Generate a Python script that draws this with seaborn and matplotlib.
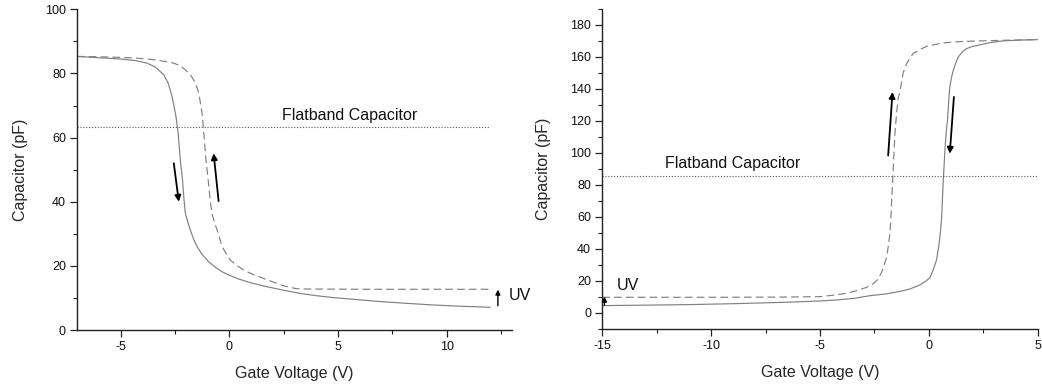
import matplotlib
matplotlib.use("Agg")
import matplotlib.pyplot as plt
from matplotlib.ticker import MultipleLocator
import seaborn as sns

# ---------------- data ----------------
# Left panel: solid sweep
left_solid_x = [-7.0, -6.0, -5.0, -4.3, -3.78, -3.4, -3.01, -2.8, -2.63, -2.45, -2.35, -2.25,
                -2.15, -2.08, -2.02, -1.9, -1.79, -1.65, -1.48, -1.25, -0.95, -0.65, -0.34,
                0.0, 0.43, 1.0, 1.73, 2.5, 3.26, 4.0, 4.79, 6.0, 7.08, 8.2, 9.37, 10.7, 12.0]
left_solid_y = [85.3, 84.9, 84.5, 84.0, 83.2, 82.0, 79.6, 76.8, 72.8, 66.6, 61.4, 53.0,
                46.8, 40.6, 36.4, 33.5, 31.2, 28.5, 26.0, 23.6, 21.3, 19.6, 18.2,
                17.1, 15.9, 14.7, 13.5, 12.4, 11.4, 10.7, 10.1, 9.4, 8.8, 8.3, 7.8, 7.4, 7.1]
# Left panel: dashed sweep
left_dash_x = [-7.0, -6.0, -5.0, -4.3, -3.62, -3.0, -2.55, -2.25, -2.02, -1.8, -1.64, -1.5,
               -1.4, -1.25, -1.17, -1.07, -0.97, -0.88, -0.8, -0.68, -0.56, -0.33, -0.1,
               0.05, 0.35, 0.66, 1.1, 1.57, 2.0, 2.49, 3.0, 3.26, 6.0, 9.0, 12.0]
left_dash_y = [85.3, 85.2, 85.0, 84.8, 84.4, 83.8, 83.2, 82.4, 81.1, 79.7, 78.0, 76.0,
               73.8, 67.6, 61.4, 53.0, 46.8, 40.6, 36.4, 33.5, 31.2, 26.0, 23.3,
               21.8, 20.1, 18.7, 17.3, 16.1, 15.0, 13.8, 13.0, 12.8, 12.7, 12.7, 12.7]
left_flatband = 63.2

# Right panel: solid sweep
right_solid_x = [-15.0, -13.0, -11.13, -9.0, -6.54, -5.0, -4.24, -3.4, -2.71, -1.9, -1.18,
                 -0.87, -0.41, -0.18, 0.05, 0.2, 0.35, 0.47, 0.54, 0.58, 0.62, 0.66, 0.7,
                 0.73, 0.79, 0.86, 0.91, 0.96, 1.04, 1.12, 1.23, 1.35, 1.53, 1.73, 2.0,
                 2.34, 2.8, 3.41, 4.2, 5.0]
right_solid_y = [4.6, 4.9, 5.2, 5.8, 6.7, 7.5, 8.1, 9.2, 10.8, 12.0, 13.9,
                 15.0, 17.5, 19.5, 22.0, 27.0, 33.0, 43.0, 52.0, 58.0, 70.0, 82.0, 92.0,
                 100.0, 112.0, 121.0, 132.0, 141.0, 147.0, 151.4, 155.8, 159.7, 162.8, 165.0, 166.3,
                 167.3, 168.7, 169.8, 170.3, 170.6]
# Right panel: dashed sweep
right_dash_x = [-15.0, -12.0, -9.6, -7.0, -5.0, -4.4, -3.78, -3.3, -2.86, -2.55, -2.33,
                -2.15, -1.94, -1.86, -1.79, -1.74, -1.71, -1.67, -1.6, -1.56, -1.48,
                -1.41, -1.33, -1.18, -1.02, -0.85, -0.72, -0.4, -0.1, 0.3, 0.66, 1.2,
                1.88, 2.34, 3.5, 5.0]
right_dash_y = [9.8, 9.8, 9.8, 9.9, 10.2, 11.1, 12.3, 14.0, 16.0, 18.3, 21.2,
                26.0, 34.8, 42.0, 49.4, 60.0, 70.2, 80.6, 100.0, 111.9, 125.0,
                134.0, 138.0, 150.0, 155.6, 159.5, 161.9, 164.5, 166.4, 167.6, 168.5, 169.2,
                169.6, 169.8, 170.2, 170.6]
right_flatband = 85.2

x_label = "Gate Voltage (V)"
y_label = "Capacitor (pF)"
flatband_text = "Flatband Capacitor"
uv_text = "UV"

# ---------------- style ----------------
sns.set_style("ticks")
plt.rcParams["font.family"] = ["Liberation Sans", "DejaVu Sans"]
plt.rcParams["axes.unicode_minus"] = False
plt.rcParams["axes.edgecolor"] = "#222222"
plt.rcParams["axes.linewidth"] = 1.0
plt.rcParams["text.color"] = "#111111"

curve_color = "#808080"
dot_color = "#555555"

fig = plt.figure(figsize=(10.42, 3.84), dpi=100)
axL = fig.add_axes([0.0739, 0.1406, 0.4175, 0.8352])
axR = fig.add_axes([0.5780, 0.1432, 0.4179, 0.8346])

arrow_kw = dict(arrowstyle="-|>", color="black", lw=1.3, mutation_scale=9,
                shrinkA=0, shrinkB=0)


def style_axes(ax, ypad):
    sns.despine(ax=ax)
    ax.tick_params(axis="both", which="major", direction="out", length=5,
                   width=0.9, labelsize=9, color="#222222", labelcolor="#111111", pad=3)
    ax.tick_params(axis="both", which="minor", direction="out", length=3,
                   width=0.8, color="#222222")
    ax.set_xlabel(x_label, fontsize=11.5, labelpad=9)
    ax.set_ylabel(y_label, fontsize=11.5, labelpad=ypad)


# ---------- left panel ----------
sns.lineplot(x=left_solid_x, y=left_solid_y, ax=axL, color=curve_color, lw=0.85,
             estimator=None, sort=False)
sns.lineplot(x=left_dash_x, y=left_dash_y, ax=axL, color=curve_color, lw=0.85,
             linestyle=(0, (6.5, 3.5)), estimator=None, sort=False)
axL.plot([-7, 12], [left_flatband, left_flatband], color=dot_color, lw=0.8,
         linestyle=(0, (1, 1.6)))
axL.text(5.55, left_flatband + 1.2, flatband_text, ha="center", va="bottom", fontsize=11.5)
axL.annotate("", xy=(-2.32, 40), xytext=(-2.55, 52), arrowprops=arrow_kw)
axL.annotate("", xy=(-0.72, 55.1), xytext=(-0.49, 40.2), arrowprops=arrow_kw)
axL.annotate("", xy=(12.35, 12.6), xytext=(12.35, 7.6),
             arrowprops=dict(arrow_kw, lw=1.0, mutation_scale=7), annotation_clip=False)
axL.text(12.85, 10.9, uv_text, ha="left", va="center", fontsize=11.5, clip_on=False)

axL.set_xlim(-7, 13)
axL.set_ylim(0, 100)
axL.xaxis.set_major_locator(MultipleLocator(5))
axL.xaxis.set_minor_locator(MultipleLocator(2.5))
axL.yaxis.set_major_locator(MultipleLocator(20))
axL.yaxis.set_minor_locator(MultipleLocator(10))
style_axes(axL, 12)

# ---------- right panel ----------
sns.lineplot(x=right_solid_x, y=right_solid_y, ax=axR, color=curve_color, lw=0.85,
             estimator=None, sort=False)
sns.lineplot(x=right_dash_x, y=right_dash_y, ax=axR, color=curve_color, lw=0.85,
             linestyle=(0, (6.5, 3.5)), estimator=None, sort=False)
axR.plot([-15, 5], [right_flatband, right_flatband], color=dot_color, lw=0.8,
         linestyle=(0, (1, 1.6)))
axR.text(-9.0, right_flatband + 3.2, flatband_text, ha="center", va="bottom", fontsize=11.5)
axR.annotate("", xy=(-1.67, 137.9), xytext=(-1.87, 98.3), arrowprops=arrow_kw)
axR.annotate("", xy=(0.96, 99.4), xytext=(1.15, 134.8), arrowprops=arrow_kw)
axR.annotate("", xy=(-14.9, 10.2), xytext=(-14.9, 4.8),
             arrowprops=dict(arrow_kw, lw=1.0, mutation_scale=7), annotation_clip=False)
axR.text(-14.35, 17.1, uv_text, ha="left", va="center", fontsize=11.5)

axR.set_xlim(-15, 5)
axR.set_ylim(-10, 190)
axR.xaxis.set_major_locator(MultipleLocator(5))
axR.xaxis.set_minor_locator(MultipleLocator(2.5))
axR.yaxis.set_major_locator(MultipleLocator(20))
axR.yaxis.set_minor_locator(MultipleLocator(10))
style_axes(axR, 13.5)

fig.savefig("out.png", dpi=100)
